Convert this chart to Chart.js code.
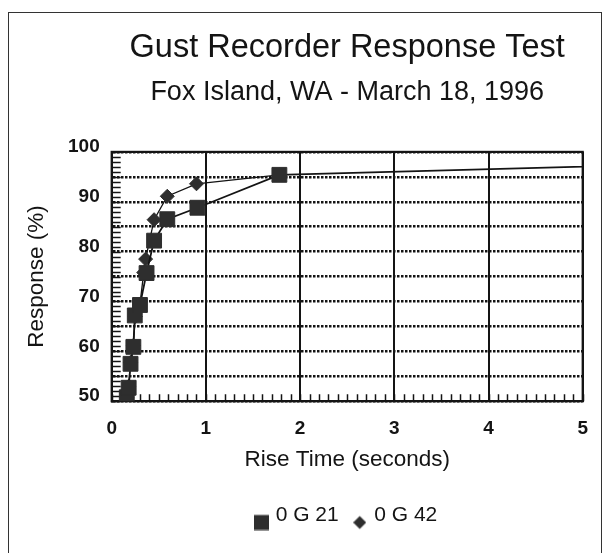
<!DOCTYPE html>
<html>
<head>
<meta charset="utf-8">
<title>Gust Recorder Response Test</title>
<script src="https://cdn.jsdelivr.net/npm/chart.js@4/dist/chart.umd.min.js"></script>
<style>
  html, body { margin: 0; padding: 0; background: #fff; overflow: hidden; }
  #wrap { position: relative; width: 604px; height: 553px; }
  #frame { position: absolute; left: 8px; top: 12px; width: 592px; height: 560px; border: 1.5px solid #333; pointer-events: none; }
  canvas { position: absolute; left: 0; top: 0; }
</style>
</head>
<body>
<div id="wrap">
  <canvas id="chartGust" width="604" height="553"></canvas>
  <div id="frame"></div>
</div>
<script>
// Datos
const seriesNames = ['0 G 21', '0 G 42'];
const g21Time = [0.16, 0.18, 0.20, 0.23, 0.245, 0.30, 0.37, 0.45, 0.59, 0.91, 1.78, 10];
const g21Resp = [50.8, 52.7, 57.5, 60.9, 67.2, 69.3, 75.7, 82.2, 86.5, 88.8, 95.4, 99.6];
const g42Time = [0.16, 0.18, 0.20, 0.23, 0.25, 0.30, 0.34, 0.36, 0.45, 0.59, 0.90, 1.78];
const g42Resp = [50.7, 53.0, 57.8, 61.2, 67.0, 69.5, 75.8, 78.5, 86.4, 91.1, 93.6, 95.4];
const xTicks = [0, 1, 2, 3, 4, 5];
const yTicks = [50, 60, 70, 80, 90, 100];

const ink = '#141414';
const markFill = '#2e2e2e';
const fontFam = '"Liberation Sans", Arial, sans-serif';

function toPoints(xs, ys) {
    return xs.map((x, i) => ({ x: x, y: ys[i] }));
}

// iconos de la leyenda (un poco mas abajo que el texto, como en el original)
function legendIcon(shape) {
    const c = document.createElement('canvas');
    const w = shape === 'rect' ? 15 : 13;
    c.width = w; c.height = 30;
    const g = c.getContext('2d');
    g.fillStyle = markFill;
    if (shape === 'rect') {
        g.fillRect(0, 14.5, 15, 15);
    } else {
        g.beginPath();
        g.moveTo(6.5, 15.5); g.lineTo(13, 22); g.lineTo(6.5, 28.5); g.lineTo(0, 22);
        g.closePath(); g.fill();
    }
    return c;
}

// marco del area, marcas menores en los ejes
const frameTicks = {
    id: 'frameTicks',
    beforeDatasetsDraw(chart) {
        const { ctx, chartArea: a, scales: { x, y } } = chart;
        ctx.save();
        ctx.strokeStyle = ink;
        ctx.lineWidth = 1.5;
        ctx.beginPath();
        for (let i = yTicks[0]; i <= yTicks[yTicks.length - 1]; i++) {
            const py = Math.round(y.getPixelForValue(i)) + 0.5;
            ctx.moveTo(a.left, py); ctx.lineTo(a.left + 9, py);
        }
        for (let i = 0; i <= xTicks[xTicks.length - 1] * 10; i++) {
            const px = Math.round(x.getPixelForValue(i / 10)) + 0.5;
            ctx.moveTo(px, a.bottom); ctx.lineTo(px, a.bottom - 7);
        }
        ctx.stroke();
        ctx.lineWidth = 2.2;
        ctx.strokeRect(a.left, a.top, a.right - a.left, a.bottom - a.top);
        ctx.restore();
    }
};

new Chart(document.getElementById('chartGust'), {
    type: 'scatter',
    data: {
        datasets: [{
            label: seriesNames[0],
            data: toPoints(g21Time, g21Resp),
            showLine: true,
            borderColor: ink,
            borderWidth: 1.8,
            pointStyle: 'rect',
            pointRadius: 10.5,
            pointHoverRadius: 10.5,
            pointBackgroundColor: markFill,
            pointBorderColor: markFill,
            pointBorderWidth: 1
        }, {
            label: seriesNames[1],
            data: toPoints(g42Time, g42Resp),
            showLine: true,
            borderColor: ink,
            borderWidth: 1.3,
            pointStyle: 'rectRot',
            pointRadius: 7,
            pointHoverRadius: 7,
            pointBackgroundColor: markFill,
            pointBorderColor: markFill,
            pointBorderWidth: 1
        }]
    },
    options: {
        responsive: false,
        animation: false,
        layout: { padding: { left: 8, right: 18, top: 0, bottom: 17 } },
        plugins: {
            title: {
                display: true,
                fullSize: false,
                text: 'Gust Recorder Response Test',
                color: ink,
                font: { family: fontFam, size: 32.5, weight: 'normal' },
                padding: { top: 28.5, bottom: 2 }
            },
            subtitle: {
                display: true,
                fullSize: false,
                text: 'Fox Island, WA - March 18, 1996',
                color: ink,
                font: { family: fontFam, size: 27, weight: 'normal' },
                padding: { top: 7, bottom: 43 }
            },
            legend: {
                position: 'bottom',
                fullSize: false,
                labels: {
                    usePointStyle: true,
                    pointStyleWidth: 8,
                    padding: 17,
                    color: ink,
                    font: { family: fontFam, size: 21 },
                    generateLabels: function (chart) {
                        const items = Chart.defaults.plugins.legend.labels.generateLabels(chart);
                        items.forEach(function (it) {
                            it.pointStyle = legendIcon(it.datasetIndex === 0 ? 'rect' : 'rectRot');
                        });
                        return items;
                    }
                }
            },
            tooltip: { enabled: false }
        },
        scales: {
            x: {
                type: 'linear',
                min: xTicks[0],
                max: xTicks[xTicks.length - 1],
                ticks: {
                    stepSize: 1,
                    autoSkip: false,
                    maxRotation: 0,
                    padding: 16,
                    color: ink,
                    font: { family: fontFam, size: 19, weight: 'bold' },
                    callback: v => xTicks.includes(v) ? v : ''
                },
                grid: { color: ink, lineWidth: 2, drawTicks: false },
                border: { display: true, color: ink, width: 2 },
                title: {
                    display: true,
                    text: 'Rise Time (seconds)',
                    color: ink,
                    font: { family: fontFam, size: 22.5 },
                    padding: { top: -10, bottom: 15 }
                }
            },
            y: {
                type: 'linear',
                min: yTicks[0],
                max: yTicks[yTicks.length - 1],
                ticks: {
                    stepSize: 5,
                    autoSkip: false,
                    padding: 12,
                    labelOffset: -5,
                    color: ink,
                    font: { family: fontFam, size: 19, weight: 'bold' },
                    callback: v => yTicks.includes(v) ? v : ''
                },
                grid: { color: ink, lineWidth: 2.4, drawTicks: false },
                border: { display: true, color: ink, width: 2, dash: [2.5, 1.5] },
                title: {
                    display: true,
                    text: 'Response (%)',
                    color: ink,
                    font: { family: fontFam, size: 22.5 },
                    padding: { top: 15, bottom: 6 }
                }
            }
        }
    },
    plugins: [frameTicks]
});
</script>
</body>
</html>
